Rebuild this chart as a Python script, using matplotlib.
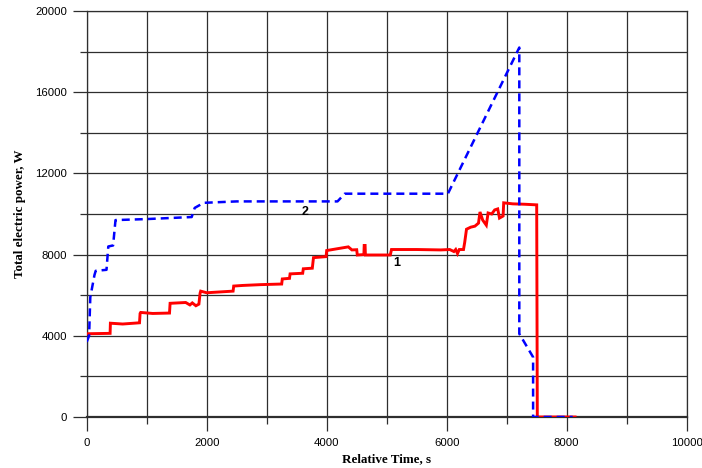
import matplotlib.pyplot as plt
from matplotlib.ticker import MultipleLocator

# curve 1: measured power, step profile
t1 = [0, 390, 395, 600, 880, 890, 900, 1100, 1380, 1390, 1650, 1720, 1760, 1820,
      1870, 1890, 1900, 2000, 2440, 2450, 2600, 2900, 3250, 3260, 3380, 3390, 3600,
      3610, 3760, 3780, 3990, 4000, 4200, 4360, 4420, 4500, 4510, 4620, 4625, 4640,
      4645, 5060, 5080, 5500, 5900, 6050, 6120, 6150, 6180, 6210, 6280, 6300, 6330,
      6400, 6470, 6530, 6555, 6600, 6660, 6690, 6750, 6800, 6850, 6880, 6940, 6950,
      7100, 7300, 7500, 7510, 8140]
p1 = [4100, 4120, 4620, 4580, 4640, 5100, 5150, 5100, 5120, 5600, 5640, 5520, 5620, 5480,
      5560, 6100, 6200, 6120, 6200, 6450, 6480, 6520, 6550, 6800, 6830, 7050, 7080,
      7300, 7330, 7850, 7900, 8200, 8300, 8380, 8230, 8240, 7980, 8000, 8450, 8450,
      7980, 7980, 8250, 8250, 8230, 8250, 8150, 8250, 8050, 8250, 8250, 8600, 9250,
      9350, 9400, 9550, 10100, 9700, 9450, 10050, 10000, 10200, 10250, 9800, 9900, 10550,
      10500, 10480, 10450, 0, 0]

# curve 2
t2 = [0, 40, 60, 130, 150, 330, 360, 440, 480, 1000, 1750, 1800, 1950, 2500, 4180, 4300,
      6020, 7210, 7210, 7440, 7440, 8100]
p2 = [3700, 4000, 5900, 7000, 7200, 7250, 8400, 8450, 9700, 9750, 9850, 10300, 10550,
      10620, 10620, 11000, 11000, 18200, 4100, 2950, 0, 0]

fig = plt.figure(figsize=(7.02, 4.68), dpi=100)
ax = fig.add_axes([0.1235, 0.109, 0.8547, 0.8675])

ax.plot(t1, p1, color='#ff0000', lw=2.1, solid_joinstyle='miter', zorder=3)
ax.plot(t2, p2, color='#0000ff', lw=1.8, dashes=(3.2, 2.0), zorder=4)

ax.text(3640, 10100, '2', fontsize=9, fontweight='bold', family='Liberation Sans',
        ha='center', va='center')
ax.text(5170, 7600, '1', fontsize=9, fontweight='bold', family='Liberation Sans',
        ha='center', va='center')

ax.set_xlim(0, 10000)
ax.set_ylim(0, 20000)
ax.xaxis.set_major_locator(MultipleLocator(2000))
ax.xaxis.set_minor_locator(MultipleLocator(1000))
ax.yaxis.set_major_locator(MultipleLocator(4000))
ax.yaxis.set_minor_locator(MultipleLocator(2000))
ax.grid(which='both', color='#2e2e2e', lw=0.9)
ax.set_axisbelow(True)

ax.tick_params(which='major', direction='out', length=10, width=0.9, color='#2e2e2e',
               labelsize=8.2, pad=4)
ax.tick_params(axis='x', which='major', pad=5)
ax.tick_params(which='minor', direction='out', length=5, width=0.9, color='#2e2e2e')
for lab in ax.get_xticklabels() + ax.get_yticklabels():
    lab.set_family('Liberation Sans')
for s in ax.spines.values():
    s.set_color('#2e2e2e')
    s.set_linewidth(0.9)
ax.spines['bottom'].set_linewidth(1.6)

ax.set_xlabel('Relative Time, s', family='Liberation Serif', fontweight='bold',
              fontsize=9.4, labelpad=4)
ax.set_ylabel('Total electric power, W', family='Liberation Serif', fontweight='bold',
              fontsize=9.4, labelpad=7)

fig.savefig('out.png', dpi=100)
